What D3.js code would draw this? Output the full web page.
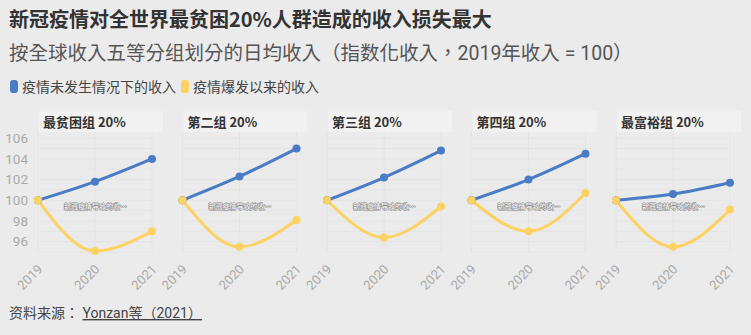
<!DOCTYPE html>
<html><head><meta charset="utf-8">
<script src="https://cdn.jsdelivr.net/npm/d3@7"></script>
<style>
body{margin:0;background:#ebebeb;}
svg{display:block;font-family:Roboto,"Noto Sans CJK TC",sans-serif;}
</style></head>
<body><svg id="c" width="751" height="335"></svg>
<script>
const years = ["2019","2020","2021"];
const groups = ["最贫困组 20%","第二组 20%","第三组 20%","第四组 20%","最富裕组 20%"];
const noCovid = [
  [100, 101.8, 104.0],
  [100, 102.3, 105.0],
  [100, 102.2, 104.8],
  [100, 102.0, 104.5],
  [100, 100.6, 101.7]
];
const withCovid = [
  [100, 95.1, 97.0],
  [100, 95.5, 98.1],
  [100, 96.4, 99.4],
  [100, 97.0, 100.7],
  [100, 95.5, 99.1]
];
const yTicks = [96, 98, 100, 102, 104, 106];
const seriesNames = ["疫情未发生情况下的收入","疫情爆发以来的收入"];
const colors = ["#4a7cc6","#fdd262"];
const title = "新冠疫情对全世界最贫困20%人群造成的收入损失最大";
const subtitle = "按全球收入五等分组划分的日均收入（指数化收入，2019年收入 = 100）";
const annotation = "新冠疫情导致的收…";

const svg = d3.select("#c");
svg.append("rect").attr("width",751).attr("height",335).attr("fill","#ebebeb");

svg.append("text").attr("x",9).attr("y",27).attr("font-size",20).attr("font-weight","bold")
  .attr("fill","#333").attr("font-family","'Noto Sans CJK SC',sans-serif").text(title);
svg.append("text").attr("x",9).attr("y",60).attr("font-size",19.5)
  .attr("fill","#555").attr("font-family","Roboto,'Noto Sans CJK TC',sans-serif").text(subtitle);

// legend
const legX = [10, 181];
seriesNames.forEach((n,i)=>{
  svg.append("rect").attr("x",legX[i]).attr("y",80).attr("width",8).attr("height",13).attr("rx",3)
    .attr("fill",colors[i]);
  svg.append("text").attr("x",legX[i]+12).attr("y",92).attr("font-size",14).attr("fill","#444")
    .attr("font-family","'Noto Sans CJK SC',sans-serif").text(n);
});

const y = d3.scaleLinear().domain([95,106.6]).range([252,132]);
const panelStart = 38, panelStep = 144.5, panelW = 114;

groups.forEach((g,i)=>{
  const x0 = panelStart + i*panelStep;
  const x = d3.scalePoint().domain(years).range([x0, x0+panelW]);
  const p = svg.append("g");
  // title box
  p.append("rect").attr("x",x0+1).attr("y",111).attr("width",124).attr("height",21).attr("fill","#f1f1f1");
  p.append("text").attr("x",x0+5).attr("y",127).attr("font-size",13).attr("font-weight","bold")
    .attr("fill","#333").attr("font-family","'Noto Sans CJK SC',sans-serif").text(g);
  // gridlines
  p.append("g").selectAll("line").data(d3.range(95,107,1)).join("line")
    .attr("x1",x0).attr("x2",x0+panelW).attr("y1",d=>y(d)).attr("y2",d=>y(d))
    .attr("stroke","#e4e4e4").attr("stroke-width",1);
  p.append("g").selectAll("line").data(years).join("line")
    .attr("x1",d=>x(d)).attr("x2",d=>x(d)).attr("y1",y(106.6)).attr("y2",y(95))
    .attr("stroke","#e4e4e4");
  // y axis for first panel
  if(i===0){
    const ya = d3.axisLeft(y).tickValues(yTicks).tickSize(0).tickPadding(10);
    const ga = p.append("g").attr("transform",`translate(${x0},0)`).call(ya);
    ga.select(".domain").remove();
    ga.selectAll("text").attr("font-size",13.5).attr("fill","#aaa").attr("font-family","Roboto");
  }
  // x axis
  const xa = d3.axisBottom(x).tickSize(0).tickPadding(0);
  const gx = p.append("g").attr("transform",`translate(0,${y(95)})`).call(xa);
  gx.select(".domain").remove();
  gx.selectAll("text").attr("font-size",13).attr("fill","#aaa").attr("font-family","Roboto")
    .attr("text-anchor","end").attr("dy",null).attr("y",0)
    .attr("transform","translate(5,18) rotate(-45)");
  // lines
  const line = d3.line().x((d,j)=>x(years[j])).y(d=>y(d)).curve(d3.curveMonotoneX);
  [noCovid[i], withCovid[i]].forEach((vals,k)=>{
    p.append("path").attr("d",line(vals)).attr("fill","none").attr("stroke",colors[k]).attr("stroke-width",3);
  });
  [withCovid[i], noCovid[i]].forEach((vals,kk)=>{
    const k = 1-kk;
    p.append("g").selectAll("circle").data(vals).join("circle")
      .attr("cx",(d,j)=>x(years[j])).attr("cy",d=>y(d)).attr("r",4).attr("fill",colors[k]);
  });
  p.append("circle").attr("cx",x(years[0])).attr("cy",y(withCovid[i][0])).attr("r",4).attr("fill",colors[1]);
  // annotation
  p.append("text").attr("x",x0+panelW/2+0.5).attr("y",y(99.15)).attr("text-anchor","middle")
    .attr("font-size",7).attr("fill","#fff").attr("stroke","#8a8a8a").attr("stroke-width",1.2)
    .attr("stroke-linejoin","round")
    .attr("paint-order","stroke").attr("font-family","'Noto Sans CJK SC',sans-serif").text(annotation);
});

// source
const src = svg.append("text").attr("x",9).attr("y",318).attr("font-size",14).attr("fill","#444")
  .attr("font-family","Roboto,'Noto Sans CJK TC',sans-serif");
src.append("tspan").text("资料来源： ");
src.append("tspan").attr("text-decoration","underline").text("Yonzan等（2021）");
</script></body></html>
